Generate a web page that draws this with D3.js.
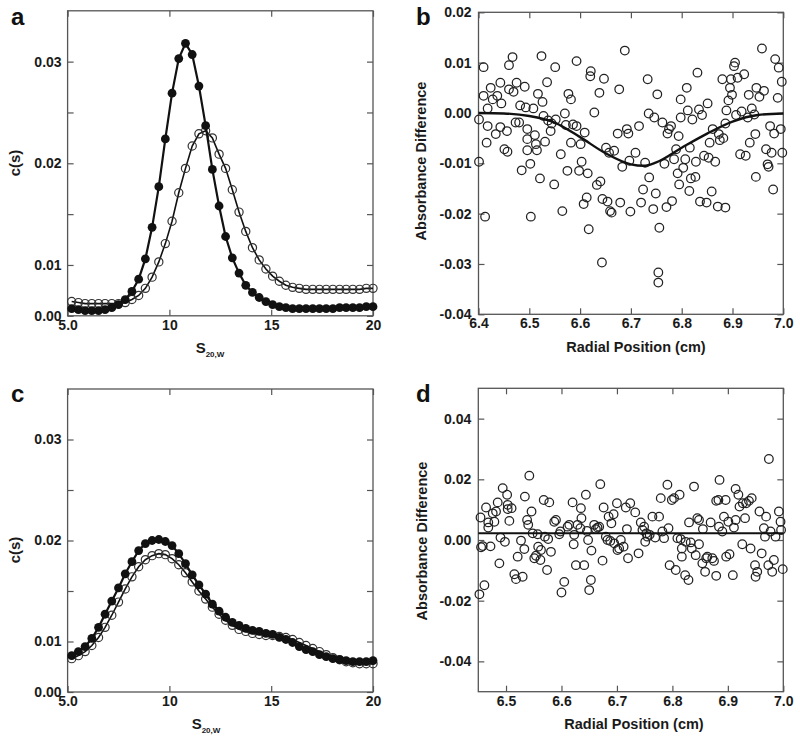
<!DOCTYPE html>
<html>
<head>
<meta charset="utf-8">
<script src="https://cdn.jsdelivr.net/npm/d3@7"></script>
<style>
  body { margin: 0; background: #fff; }
  svg { display: block; }
  .axis text { font: bold 14px "Liberation Sans", Arial, sans-serif; fill: #1a1a1a; }
  .axis line { stroke: #555; stroke-width: 1.2; }
  .title { font: bold 14.5px "Liberation Sans", Arial, sans-serif; fill: #1a1a1a; }
  .letter { font: bold 24px "Liberation Sans", Arial, sans-serif; fill: #111; }
</style>
</head>
<body>
<script>

// ---- c(s) distributions (panels a, c) ----
var sValues = [5.2, 5.53, 5.86, 6.19, 6.52, 6.84, 7.17, 7.5, 7.83, 8.16,
    8.49, 8.82, 9.15, 9.48, 9.8, 10.13, 10.46, 10.79, 11.12, 11.45,
    11.78, 12.11, 12.44, 12.76, 13.09, 13.42, 13.75, 14.08, 14.41, 14.74,
    15.07, 15.4, 15.72, 16.05, 16.38, 16.71, 17.04, 17.37, 17.7, 18.03,
    18.36, 18.68, 19.01, 19.34, 19.67, 20.0];

var aFilled = [0.0057, 0.0056, 0.0055, 0.0055, 0.0055, 0.0056, 0.0058, 0.0061, 0.0066, 0.0074,
    0.0086, 0.0106, 0.0137, 0.0177, 0.0224, 0.0269, 0.0303, 0.0318, 0.0307, 0.0276,
    0.0237, 0.0194, 0.0158, 0.0128, 0.0107, 0.0092, 0.0080, 0.0073, 0.0068, 0.0064,
    0.0061, 0.0059, 0.0058, 0.0057, 0.0057, 0.0057, 0.0057, 0.0057, 0.0057, 0.0057,
    0.0058, 0.0058, 0.0058, 0.0058, 0.0059, 0.0059];
var aOpen = [0.0064, 0.0063, 0.0062, 0.0062, 0.0062, 0.0062, 0.0062, 0.0062, 0.0063, 0.0066,
    0.0070, 0.0077, 0.0088, 0.0103, 0.0121, 0.0143, 0.0171, 0.0195, 0.0217, 0.0229,
    0.0232, 0.0225, 0.0209, 0.0195, 0.0174, 0.0152, 0.0133, 0.0117, 0.0105, 0.0096,
    0.0089, 0.0084, 0.0080, 0.0078, 0.0077, 0.0076, 0.0076, 0.0076, 0.0076, 0.0076,
    0.0076, 0.0076, 0.0076, 0.0076, 0.0077, 0.0077];

var cFilled = [0.0086, 0.0090, 0.0095, 0.0103, 0.0114, 0.0127, 0.0140, 0.0153, 0.0167, 0.0179,
    0.0190, 0.0197, 0.0200, 0.0201, 0.0199, 0.0195, 0.0187, 0.0177, 0.0166, 0.0156,
    0.0147, 0.0137, 0.0130, 0.0124, 0.0119, 0.0116, 0.0113, 0.0111, 0.0110, 0.0108,
    0.0107, 0.0104, 0.0102, 0.0099, 0.0095, 0.0092, 0.0090, 0.0087, 0.0085, 0.0083,
    0.0082, 0.0081, 0.0080, 0.0080, 0.0080, 0.0081];
var cOpen = [0.0083, 0.0086, 0.0090, 0.0096, 0.0104, 0.0114, 0.0126, 0.0139, 0.0152, 0.0164,
    0.0174, 0.0181, 0.0185, 0.0187, 0.0186, 0.0182, 0.0176, 0.0168, 0.0159, 0.0150,
    0.0142, 0.0134, 0.0127, 0.0121, 0.0116, 0.0112, 0.0110, 0.0108, 0.0107, 0.0106,
    0.0106, 0.0105, 0.0104, 0.0102, 0.0099, 0.0096, 0.0093, 0.0090, 0.0087, 0.0084,
    0.0082, 0.0080, 0.0079, 0.0078, 0.0078, 0.0078];

// ---- residuals (panel b) ----
var bRadius = [6.410, 6.401, 6.410, 6.424, 6.418, 6.418, 6.416, 6.401, 6.413, 6.428,
    6.434, 6.437, 6.443, 6.445, 6.443, 6.451, 6.456, 6.457, 6.460, 6.460,
    6.467, 6.469, 6.475, 6.473, 6.480, 6.482, 6.485, 6.491, 6.493, 6.496,
    6.496, 6.496, 6.502, 6.503, 6.508, 6.511, 6.513, 6.515, 6.517, 6.521,
    6.524, 6.526, 6.528, 6.531, 6.535, 6.537, 6.542, 6.544, 6.549, 6.551,
    6.552, 6.562, 6.565, 6.570, 6.572, 6.575, 6.577, 6.582, 6.582, 6.586,
    6.593, 6.593, 6.598, 6.601, 6.603, 6.607, 6.609, 6.613, 6.615, 6.617,
    6.620, 6.621, 6.628, 6.633, 6.638, 6.640, 6.643, 6.644, 6.647, 6.651,
    6.654, 6.657, 6.659, 6.662, 6.667, 6.674, 6.677, 6.679, 6.683, 6.688,
    6.692, 6.695, 6.697, 6.699,
    6.709, 6.716, 6.720, 6.724, 6.728, 6.733, 6.735, 6.736, 6.744, 6.746,
    6.749, 6.752, 6.756, 6.754, 6.754, 6.762, 6.766, 6.770, 6.772, 6.775,
    6.779, 6.781, 6.785, 6.789, 6.792, 6.794, 6.795, 6.798, 6.798, 6.803,
    6.807, 6.810, 6.812, 6.815, 6.816, 6.818, 6.821, 6.827, 6.828, 6.831,
    6.834, 6.836, 6.840, 6.844, 6.849, 6.851, 6.853, 6.855, 6.859, 6.861,
    6.866, 6.871, 6.873, 6.875, 6.880, 6.882, 6.886, 6.886, 6.888, 6.892,
    6.895, 6.897, 6.899, 6.903, 6.905, 6.907, 6.910, 6.915, 6.918, 6.923,
    6.926, 6.930, 6.932, 6.934, 6.938, 6.943, 6.945, 6.946, 6.947, 6.953,
    6.958, 6.962, 6.966, 6.969, 6.971, 6.974, 6.977, 6.980, 6.982, 6.984,
    6.989, 6.991, 6.995, 6.997, 6.998];
var bResid = [0.0091, -0.0013, 0.0034, 0.0050, 0.0009, -0.0026, -0.0059, -0.0097, -0.0206, 0.0027,
    -0.0042, 0.0034, 0.0060, 0.0019, -0.0028, -0.0072, -0.0036, -0.0077, 0.0047, 0.0095,
    0.0111, 0.0042, 0.0060, -0.0019, -0.0019, 0.0015, -0.0114, 0.0052, 0.0011, -0.0032,
    -0.0052, -0.0074, -0.0101, -0.0206, 0.0009, -0.0044, -0.0062, -0.0074, 0.0038, -0.0130,
    0.0113, 0.0022, -0.0006, -0.0057, 0.0061, -0.0015, -0.0036, -0.0021, -0.0142, 0.0091,
    -0.0013, -0.0082, -0.0195, -0.0001, -0.0024, -0.0115, 0.0038, 0.0027, -0.0059, -0.0023,
    -0.0026, 0.0103, -0.0115, -0.0062, -0.0097, -0.0181, -0.0039, -0.0168, -0.0120, -0.0231,
    0.0073, 0.0083, 0.0001, -0.0143, 0.0040, -0.0136, -0.0297, -0.0171, 0.0068, -0.0069,
    -0.0176, -0.0079, -0.0195, -0.0198, -0.0075, -0.0041, 0.0047, -0.0178, -0.0107, 0.0124,
    -0.0032, -0.0041, -0.0095, -0.0196,
    -0.0079, -0.0026, -0.0178, -0.0152, -0.0099, 0.0067, -0.0001, -0.0128, -0.0191, -0.0009,
    -0.0160, 0.0037, -0.0228, -0.0317, -0.0337, -0.0019, -0.0101, -0.0187, -0.0041, -0.0032,
    -0.0026, -0.0175, -0.0092, -0.0072, -0.0120, -0.0046, -0.0142, 0.0027, -0.0009, -0.0109,
    -0.0092, 0.0050, 0.0005, -0.0155, -0.0069, -0.0130, -0.0013, -0.0127, -0.0097, 0.0080,
    0.0007, -0.0176, -0.0004, -0.0085, -0.0178, 0.0019, -0.0089, -0.0059, -0.0156, -0.0032,
    -0.0097, -0.0186, -0.0042, -0.0054, 0.0067, -0.0050, -0.0021, -0.0188, 0.0005, 0.0025,
    0.0050, 0.0067, 0.0036, 0.0093, 0.0100, -0.0004, 0.0070, -0.0082, 0.0003, 0.0077,
    -0.0085, -0.0009, 0.0036, -0.0059, 0.0009, -0.0003, -0.0042, -0.0127, 0.0050, 0.0032,
    0.0128, 0.0044, -0.0072, -0.0102, -0.0107, -0.0026, -0.0079, -0.0152, -0.0041, 0.0107,
    0.0030, 0.0090, -0.0032, 0.0062, -0.0079];
var bFitR = [6.40, 6.45, 6.50, 6.55, 6.60, 6.65, 6.70, 6.725, 6.75, 6.80, 6.85, 6.90, 6.95, 7.00];
var bFitY = [0.0000, -0.0001, -0.0006, -0.0019, -0.0048, -0.0080, -0.0102, -0.0105, -0.0098, -0.0069, -0.0041, -0.0017, -0.0004, -0.0001];

// ---- residuals (panel d) ----
var dRadius = [6.454, 6.452, 6.455, 6.458, 6.461, 6.464, 6.468, 6.468, 6.472, 6.476,
    6.479, 6.482, 6.485, 6.488, 6.490, 6.494, 6.498, 6.502, 6.503, 6.503,
    6.506, 6.510, 6.515, 6.518, 6.521, 6.527, 6.530, 6.533, 6.534, 6.538,
    6.540, 6.542, 6.546, 6.548, 6.551, 6.554, 6.557, 6.558, 6.562, 6.563,
    6.568, 6.570, 6.574, 6.576, 6.578, 6.581, 6.587, 6.590, 6.596, 6.598,
    6.600, 6.605, 6.611, 6.614, 6.620, 6.622, 6.623, 6.626, 6.629, 6.634,
    6.635, 6.636, 6.641, 6.644, 6.646, 6.648, 6.650, 6.653, 6.654, 6.659,
    6.662, 6.665, 6.668, 6.670, 6.674, 6.676, 6.680, 6.683, 6.685, 6.688,
    6.690, 6.694, 6.695, 6.700, 6.701, 6.704, 6.707, 6.712, 6.716, 6.718,
    6.720, 6.724,
    6.733, 6.739, 6.743, 6.746, 6.749, 6.751, 6.753, 6.755, 6.759, 6.764,
    6.769, 6.776, 6.779, 6.782, 6.785, 6.791, 6.793, 6.795, 6.799, 6.803,
    6.806, 6.809, 6.813, 6.815, 6.817, 6.817, 6.823, 6.824, 6.829, 6.830,
    6.833, 6.835, 6.839, 6.842, 6.845, 6.848, 6.848, 6.854, 6.855, 6.859,
    6.861, 6.863, 6.869, 6.872, 6.875, 6.879, 6.879, 6.884, 6.883, 6.885,
    6.890, 6.893, 6.896, 6.897, 6.901, 6.903, 6.909, 6.911, 6.914, 6.914,
    6.919, 6.921, 6.926, 6.927, 6.931, 6.933, 6.938, 6.941, 6.943, 6.949,
    6.950, 6.953, 6.957, 6.961, 6.965, 6.967, 6.969, 6.973, 6.974, 6.977,
    6.980, 6.983, 6.986, 6.992, 6.995, 6.996, 6.999];
var dResid = [0.0074, -0.0179, -0.0024, -0.0020, -0.0149, 0.0107, 0.0041, 0.0058, -0.0021, 0.0088,
    0.0060, 0.0094, 0.0124, -0.0077, 0.0008, 0.0171, -0.0006, 0.0149, 0.0116, 0.0102,
    0.0063, 0.0105, -0.0113, -0.0129, -0.0055, -0.0002, -0.0121, -0.0030, 0.0143, 0.0066,
    0.0050, 0.0212, 0.0094, 0.0022, -0.0060, -0.0052, 0.0019, -0.0022, -0.0066, -0.0033,
    0.0132, 0.0011, -0.0099, 0.0003, 0.0124, -0.0039, 0.0060, 0.0066, 0.0019, 0.0028,
    -0.0173, -0.0138, 0.0044, 0.0050, 0.0124, -0.0014, 0.0017, -0.0083, 0.0050, 0.0039,
    0.0105, 0.0072, -0.0083, 0.0149, 0.0030, 0.0000, -0.0165, -0.0132, -0.0035, 0.0050,
    0.0036, 0.0041, 0.0044, 0.0184, -0.0068, 0.0107, 0.0011, 0.0000, 0.0077, -0.0003,
    0.0055, 0.0085, -0.0011, 0.0121, -0.0033, -0.0028, 0.0000, -0.0022, 0.0107, 0.0036,
    -0.0060, 0.0121,
    0.0091, -0.0044, 0.0058, 0.0033, 0.0044, -0.0006, 0.0022, 0.0011, 0.0017, 0.0077,
    0.0008, 0.0077, 0.0138, 0.0028, 0.0006, 0.0182, 0.0039, -0.0083, 0.0132, 0.0138,
    -0.0099, 0.0006, 0.0149, 0.0003, -0.0028, -0.0055, -0.0116, -0.0006, -0.0132, 0.0058,
    -0.0008, -0.0028, 0.0176, -0.0050, 0.0072, 0.0066, -0.0014, -0.0077, 0.0036, -0.0105,
    -0.0060, -0.0055, 0.0058, -0.0060, -0.0069, -0.0118, 0.0129, 0.0044, 0.0132, 0.0198,
    0.0028, 0.0077, 0.0132, -0.0055, 0.0060, -0.0047, -0.0116, 0.0041, 0.0168, 0.0066,
    0.0149, 0.0110, -0.0014, 0.0121, 0.0072, 0.0121, 0.0129, -0.0028, 0.0138, -0.0083,
    -0.0121, -0.0105, 0.0094, -0.0044, 0.0039, 0.0011, 0.0077, -0.0083, 0.0267, 0.0028,
    -0.0105, -0.0066, 0.0011, 0.0094, 0.0060, 0.0033, -0.0096];
var dFitR = [6.45, 7.00];
var dFitY = [0.0022, 0.0022];

// ---- ticks ----
var sTicks = [5, 10, 15, 20];
var sTickLabels = ["5.0", "10", "15", "20"];
var csTicks = [0.005, 0.01, 0.015, 0.02, 0.025, 0.03];
var csTickLabels = ["0.00", "0.01", "", "0.02", "", "0.03"];
var bXTicks = [6.4, 6.5, 6.6, 6.7, 6.8, 6.9, 7.0];
var bXLabels = ["6.4", "6.5", "6.6", "6.7", "6.8", "6.9", "7.0"];
var bYTicks = [0.02, 0.01, 0, -0.01, -0.02, -0.03, -0.04];
var bYLabels = ["0.02", "0.01", "0.00", "-0.01", "-0.02", "-0.03", "-0.04"];
var dXTicks = [6.5, 6.6, 6.7, 6.8, 6.9, 7.0];
var dXLabels = ["6.5", "6.6", "6.7", "6.8", "6.9", "7.0"];
var dYTicks = [0.04, 0.02, 0, -0.02, -0.04];
var dYLabels = ["0.04", "0.02", "0.00", "-0.02", "-0.04"];


var svg = d3.select("body").append("svg")
    .attr("width", 800)
    .attr("height", 739);

function makePanel(box, xDom, yDom, xt, xl, yt, yl, pad) {
    var x = d3.scaleLinear().domain(xDom).range([box.x0, box.x1]);
    var y = d3.scaleLinear().domain(yDom).range([box.y1, box.y0]);
    var g = svg.append("g");

    g.append("g").attr("class", "axis")
        .attr("transform", "translate(0," + box.y1 + ")")
        .call(d3.axisBottom(x).tickValues(xt).tickFormat(function(d, i) { return xl[i]; })
            .tickSizeInner(-6).tickSizeOuter(0).tickPadding(pad.x));
    g.append("g").attr("class", "axis")
        .attr("transform", "translate(0," + box.y0 + ")")
        .call(d3.axisTop(x).tickValues(xt).tickFormat("").tickSizeInner(-6).tickSizeOuter(0));
    g.append("g").attr("class", "axis")
        .attr("transform", "translate(" + box.x0 + ",0)")
        .call(d3.axisLeft(y).tickValues(yt).tickFormat(function(d, i) { return yl[i]; })
            .tickSizeInner(-6).tickSizeOuter(0).tickPadding(pad.y));
    g.append("g").attr("class", "axis")
        .attr("transform", "translate(" + box.x1 + ",0)")
        .call(d3.axisRight(y).tickValues(yt).tickFormat("").tickSizeInner(-6).tickSizeOuter(0));
    g.selectAll(".domain").remove();

    g.append("rect")
        .attr("x", box.x0).attr("y", box.y0)
        .attr("width", box.x1 - box.x0).attr("height", box.y1 - box.y0)
        .attr("fill", "none").attr("stroke", "#555").attr("stroke-width", 1.3);

    return {g: g, x: x, y: y};
}

function drawDistribution(p, filled, open) {
    var line = d3.line()
        .x(function(d, i) { return p.x(sValues[i]); })
        .y(function(d) { return p.y(d); });
    p.g.append("path").datum(open).attr("d", line)
        .attr("fill", "none").attr("stroke", "#111").attr("stroke-width", 1.6);
    p.g.selectAll(".open").data(open).enter().append("circle")
        .attr("cx", function(d, i) { return p.x(sValues[i]); })
        .attr("cy", function(d) { return p.y(d); })
        .attr("r", 4.1)
        .attr("fill", "none").attr("stroke", "#333").attr("stroke-width", 1.2);
    p.g.append("path").datum(filled).attr("d", line)
        .attr("fill", "none").attr("stroke", "#111").attr("stroke-width", 2.2);
    p.g.selectAll(".filled").data(filled).enter().append("circle")
        .attr("cx", function(d, i) { return p.x(sValues[i]); })
        .attr("cy", function(d) { return p.y(d); })
        .attr("r", 4.4)
        .attr("fill", "#111");
}

function drawResiduals(p, rad, res, fitR, fitY, lw) {
    p.g.selectAll(".pt").data(res).enter().append("circle")
        .attr("cx", function(d, i) { return p.x(rad[i]); })
        .attr("cy", function(d) { return p.y(d); })
        .attr("r", 4.3)
        .attr("fill", "none").attr("stroke", "#222").attr("stroke-width", 1.25);
    var line = d3.line()
        .curve(d3.curveMonotoneX)
        .x(function(d, i) { return p.x(fitR[i]); })
        .y(function(d) { return p.y(d); });
    p.g.append("path").datum(fitY).attr("d", line)
        .attr("fill", "none").attr("stroke", "#111").attr("stroke-width", lw);
}

function sLabel(cx, baseline) {
    var t = svg.append("text").attr("class", "title")
        .attr("x", cx).attr("y", baseline).attr("text-anchor", "middle");
    t.append("tspan").style("font-size", "15px").text("S");
    t.append("tspan").attr("dy", 4).style("font-size", "8px").text("20,W");
}

function yTitle(cx, cy, txt, size) {
    svg.append("text").attr("class", "title")
        .attr("transform", "translate(" + cx + "," + cy + ") rotate(-90)")
        .attr("text-anchor", "middle")
        .style("font-size", size + "px")
        .text(txt);
}

function letter(x, y, txt) {
    svg.append("text").attr("class", "letter").attr("x", x).attr("y", y).text(txt);
}

// panel a
var pa = makePanel({x0: 67.6, x1: 373, y0: 10.8, y1: 315.8}, [5, 20], [0.005, 0.035],
    sTicks, sTickLabels, csTicks, csTickLabels, {x: 4.5, y: 6});
drawDistribution(pa, aFilled, aOpen);
sLabel(210, 353);
yTitle(20, 163, "c(s)", 15);
letter(11, 25, "a");

// panel b
var pb = makePanel({x0: 478.5, x1: 783.3, y0: 12.3, y1: 314.3}, [6.4, 7.0], [-0.04, 0.02],
    bXTicks, bXLabels, bYTicks, bYLabels, {x: 4, y: 7});
drawResiduals(pb, bRadius, bResid, bFitR, bFitY, 2.4);
svg.append("text").attr("class", "title")
    .attr("x", 636).attr("y", 352).attr("text-anchor", "middle")
    .text("Radial Position (cm)");
yTitle(426, 161, "Absorbance Difference", 14.5);
letter(416, 25, "b");

// panel c
var pc = makePanel({x0: 67.6, x1: 373, y0: 389, y1: 692}, [5, 20], [0.005, 0.035],
    sTicks, sTickLabels, csTicks, csTickLabels, {x: 4.5, y: 6});
drawDistribution(pc, cFilled, cOpen);
sLabel(206, 729);
yTitle(20, 550, "c(s)", 15);
letter(11, 402, "c");

// panel d
var pd = makePanel({x0: 478.3, x1: 783.3, y0: 388.3, y1: 691.7}, [6.45, 7.0], [-0.05, 0.05],
    dXTicks, dXLabels, dYTicks, dYLabels, {x: 4, y: 7});
drawResiduals(pd, dRadius, dResid, dFitR, dFitY, 2);
svg.append("text").attr("class", "title")
    .attr("x", 634).attr("y", 729).attr("text-anchor", "middle")
    .text("Radial Position (cm)");
yTitle(427, 541, "Absorbance Difference", 14.5);
letter(416, 402, "d");

</script>
</body>
</html>
